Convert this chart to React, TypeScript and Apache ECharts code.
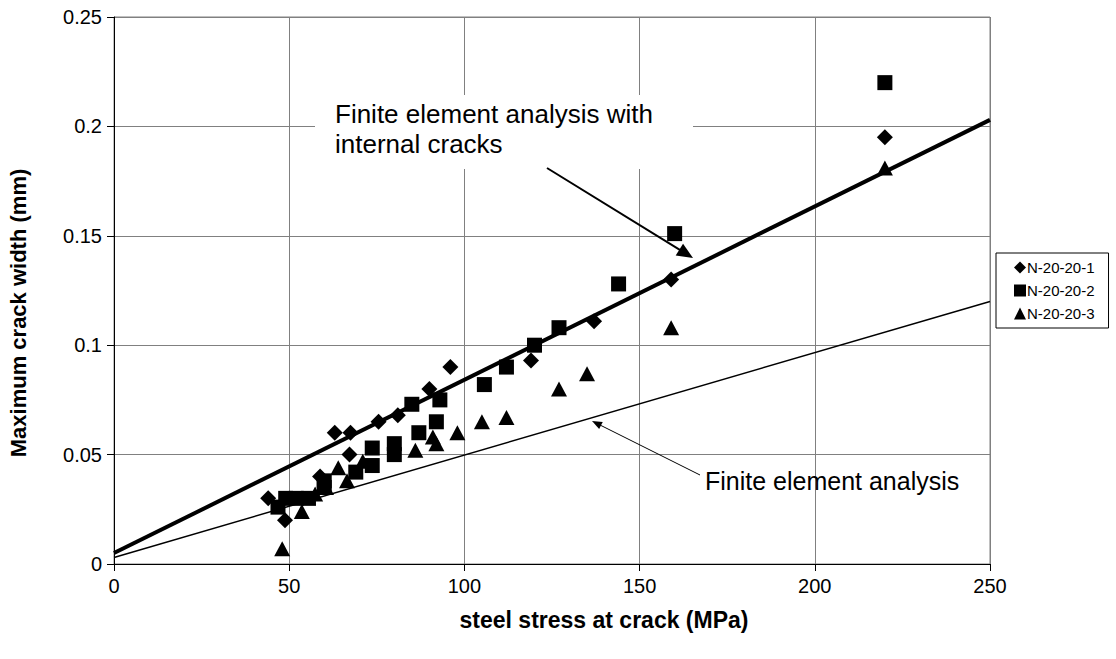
import React, { useEffect, useRef } from "react";
import * as echarts from "echarts";

const xTickLabels = ["0", "50", "100", "150", "200", "250"];
const yTickLabels = ["0", "0.05", "0.1", "0.15", "0.2", "0.25"];

const seriesNames = ["N-20-20-1", "N-20-20-2", "N-20-20-3"];

const s1: [number, number][] = [
  [44, 0.03], [48.8, 0.02], [58.8, 0.04], [63, 0.06], [67.5, 0.06], [67.2, 0.05],
  [75.5, 0.065], [81, 0.068], [90, 0.08], [96, 0.09], [119, 0.093], [137, 0.111],
  [159, 0.13], [220, 0.195],
];
const s2: [number, number][] = [
  [46.8, 0.026], [49, 0.03], [52, 0.03], [55.5, 0.03], [60, 0.035], [60, 0.038],
  [69, 0.042], [73.7, 0.045], [73.7, 0.053], [80, 0.05], [80, 0.055], [85, 0.073],
  [87, 0.06], [92, 0.065], [93, 0.075], [105.7, 0.082], [112, 0.09], [120, 0.1],
  [127, 0.108], [144, 0.128], [160, 0.151], [220, 0.22],
];
const s3: [number, number][] = [
  [48, 0.007], [53.6, 0.024], [57.4, 0.032], [60.5, 0.035], [64, 0.044], [66.5, 0.038],
  [71, 0.047], [86, 0.052], [91, 0.058], [92, 0.055], [98, 0.06], [105, 0.065],
  [112, 0.067], [127, 0.08], [135, 0.087], [159, 0.108], [220, 0.181],
];
const feaInternal: [number, number][] = [[0, 0.005], [250, 0.203]];
const fea: [number, number][] = [[0, 0.003], [250, 0.12]];

const annot1 = ["Finite element analysis with", "internal cracks"];
const annot2 = "Finite element analysis";
const xTitle = "steel stress at crack (MPa)";
const yTitle = "Maximum crack width (mm)";

const FONT = "'Liberation Sans', Arial, Helvetica, sans-serif";

function arrow(x1: number, y1: number, x2: number, y2: number, w: number, len: number, half: number, z: number) {
  const dx = x2 - x1, dy = y2 - y1;
  const L = Math.sqrt(dx * dx + dy * dy);
  const ux = dx / L, uy = dy / L;
  const bx = x2 - ux * len, by = y2 - uy * len;
  const px = -uy * half, py = ux * half;
  return [
    { type: "line", shape: { x1, y1, x2: bx + ux * 2, y2: by + uy * 2 }, style: { stroke: "#000", lineWidth: w }, z },
    {
      type: "polygon",
      shape: { points: [[x2, y2], [bx + px, by + py], [bx - px, by - py]] },
      style: { fill: "#000" },
      z,
    },
  ];
}

export default function App() {
  const ref = useRef<HTMLDivElement>(null);
  useEffect(() => {
    if (!ref.current) return;
    const chart = echarts.init(ref.current, undefined, { renderer: "svg" });
    const mk = (name: string, data: [number, number][], symbol: string, size: any) => ({
      name, type: "scatter", data, symbol, symbolSize: size,
      itemStyle: { color: "#000", opacity: 1 }, z: 5,
    });
    const txt = (text: string, x: number, y: number, size: number, extra: any = {}) => ({
      type: "text", x, y, z: 60,
      style: { text, fontSize: size, fontFamily: FONT, fill: "#000", textVerticalAlign: "middle", ...extra },
    });
    chart.setOption({
      animation: false,
      backgroundColor: "#fff",
      textStyle: { fontFamily: FONT },
      grid: { left: 114, right: 126, top: 17, bottom: 95, show: true, borderColor: "#808080", borderWidth: 1 },
      legend: {
        data: [
          { name: seriesNames[0], icon: "diamond" },
          { name: seriesNames[1], icon: "rect" },
          { name: seriesNames[2], icon: "triangle" },
        ],
        orient: "vertical", left: 996, top: 253,
        borderColor: "#000", borderWidth: 1, padding: [7, 14, 7, 18],
        itemWidth: 12, itemHeight: 12, itemGap: 8,
        textStyle: { fontSize: 15, color: "#000", fontFamily: FONT, padding: [0, 0, 0, -4] },
      },
      xAxis: {
        type: "value", min: 0, max: 250, interval: 50,
        axisLine: { lineStyle: { color: "#000", width: 1 } },
        axisTick: { show: true, length: 7, lineStyle: { color: "#000" } },
        axisLabel: { fontSize: 20, color: "#000", margin: 12, fontFamily: FONT, formatter: (v: number) => xTickLabels[Math.round(v / 50)] },
        splitLine: { show: true, lineStyle: { color: "#808080", width: 1 } },
      },
      yAxis: {
        type: "value", min: 0, max: 0.25, interval: 0.05,
        axisLine: { show: true, lineStyle: { color: "#000", width: 1 } },
        axisTick: { show: true, length: 7, lineStyle: { color: "#000" } },
        axisLabel: { fontSize: 20, color: "#000", margin: 12, fontFamily: FONT, formatter: (v: number) => yTickLabels[Math.round(v / 0.05)] },
        splitLine: { show: true, lineStyle: { color: "#808080", width: 1 } },
      },
      series: [
        { name: "FEA internal", type: "line", data: feaInternal, symbol: "none", lineStyle: { color: "#000", width: 4 }, z: 4 },
        { name: "FEA", type: "line", data: fea, symbol: "none", lineStyle: { color: "#000", width: 1.5 }, z: 4 },
        mk(seriesNames[0], s1, "diamond", 16),
        mk(seriesNames[1], s2, "rect", 15),
        mk(seriesNames[2], s3, "triangle", [16, 15]),
      ],
      graphic: [
        { type: "rect", shape: { x: 315, y: 95, width: 378, height: 74 }, style: { fill: "#fff" }, z: 50 },
        txt(annot1[0], 335, 113.5, 26),
        txt(annot1[1], 335, 143.5, 26),
        txt(annot2, 705, 481, 25),
        ...arrow(547, 168, 693, 258, 2, 16, 7, 55),
        ...arrow(700, 475, 592, 421, 1, 10, 4, 55),
        txt(xTitle, 604, 620, 23, { fontWeight: "bold", textAlign: "center" }),
        {
          type: "text", x: 18, y: 313, rotation: Math.PI / 2, z: 60,
          style: { text: yTitle, fontSize: 22, fontWeight: "bold", fontFamily: FONT, fill: "#000", textAlign: "center", textVerticalAlign: "middle" },
        },
      ],
    });
    return () => chart.dispose();
  }, []);
  return <div ref={ref} style={{ position: "absolute", left: 0, top: 0, width: 1116, height: 659 }} />;
}
